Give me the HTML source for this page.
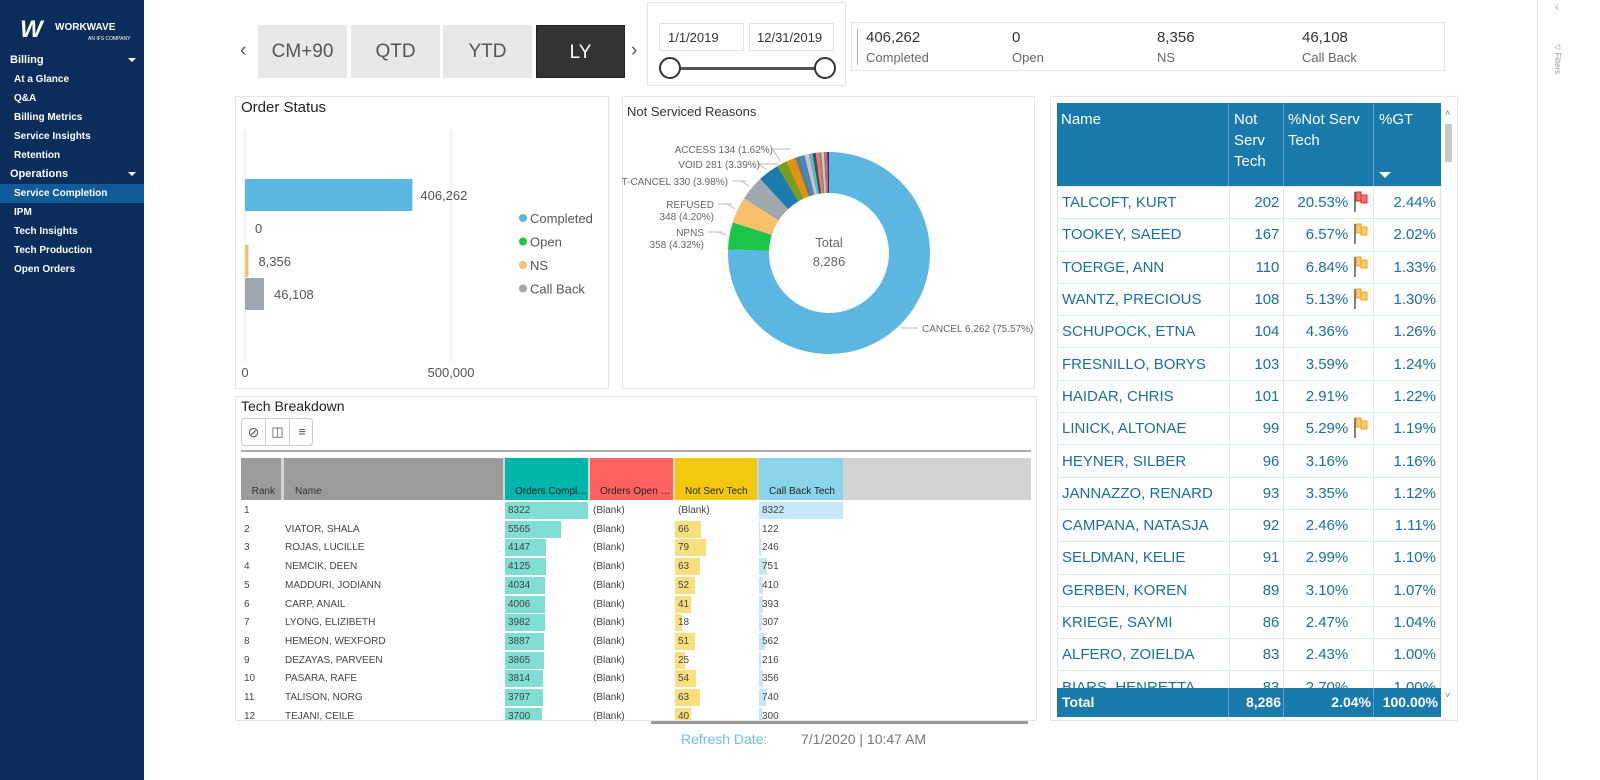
<!DOCTYPE html>
<html><head><meta charset="utf-8">
<style>
*{box-sizing:border-box;margin:0;padding:0}
body{width:1600px;height:780px;overflow:hidden;background:#fff;font-family:"Liberation Sans",sans-serif;position:relative;color:#333}
.abs{position:absolute}
#side{left:0;top:0;width:144px;height:780px;background:#0b2d5c}
.nav{position:absolute;left:14px;font-size:10px;color:#fff;font-weight:bold}
.navh{position:absolute;left:10px;font-size:11px;color:#fff;font-weight:bold}
.btn{position:absolute;top:25px;height:53px;width:89px;background:#e8e8e8;color:#555;font-size:19px;text-align:center;line-height:53px}
.panel{position:absolute;border:1px solid #e6e6e6;background:#fff}
.ptitle{position:absolute;font-size:15px;color:#222}
.kv{position:absolute;top:29px;font-size:15px;color:#333}
.kl{position:absolute;top:50px;font-size:13px;color:#666}
table.rt{position:absolute;left:1057px;top:103px;border-collapse:collapse;font-size:15px;color:#1a6fa0}
table.rt td{border:1px solid #dbe8f2;height:32.3px;padding:0 4px;white-space:nowrap;overflow:hidden}
.th{position:absolute;color:#fff;font-size:15px;line-height:21px}
.trow{position:absolute;font-size:10px;color:#444;height:17px;line-height:17px}
</style></head><body>
<div id="side" class="abs">
  <div class="abs" style="left:20px;top:16px;color:#fff;font-weight:bold;font-size:24px;font-style:italic;letter-spacing:-3px">W</div>
  <div class="abs" style="left:55px;top:22px;color:#fff;font-weight:bold;font-size:10px">WORKWAVE</div>
  <div class="abs" style="left:88px;top:36px;color:#fff;font-size:5px">AN IFS COMPANY</div>
  <div class="navh" style="top:54px">Billing</div>
  <div class="abs" style="left:128px;top:58px;border:4px solid transparent;border-top:4px solid #fff"></div>
  <div class="nav" style="top:74px">At a Glance</div>
  <div class="nav" style="top:93px">Q&amp;A</div>
  <div class="nav" style="top:112px">Billing Metrics</div>
  <div class="nav" style="top:131px">Service Insights</div>
  <div class="nav" style="top:150px">Retention</div>
  <div class="navh" style="top:168px">Operations</div>
  <div class="abs" style="left:128px;top:172px;border:4px solid transparent;border-top:4px solid #fff"></div>
  <div class="abs" style="left:0;top:184px;width:144px;height:19px;background:#0f5c99"></div>
  <div class="nav" style="top:188px">Service Completion</div>
  <div class="nav" style="top:207px">IPM</div>
  <div class="nav" style="top:226px">Tech Insights</div>
  <div class="nav" style="top:245px">Tech Production</div>
  <div class="nav" style="top:264px">Open Orders</div>
</div>

<div class="abs" style="left:1537px;top:0;width:1px;height:780px;background:#ddd"></div>
<div class="abs" style="left:1555px;top:2px;font-size:11px;color:#999">‹</div>
<div class="abs" style="top:44px;font-size:8px;color:#999;transform:rotate(90deg);transform-origin:left top;left:1562px">▽  Filters</div>

<div class="abs" style="left:240px;top:40px;font-size:19px;color:#555">‹</div>
<div class="btn" style="left:258px">CM+90</div>
<div class="btn" style="left:351px">QTD</div>
<div class="btn" style="left:443px">YTD</div>
<div class="btn" style="left:536px;background:#333;color:#fff;border:1px solid #222">LY</div>
<div class="abs" style="left:631px;top:40px;font-size:19px;color:#555">›</div>

<div class="panel" style="left:647px;top:2px;width:199px;height:84px"></div>
<div class="abs" style="left:659px;top:23px;width:85px;height:28px;border:1px solid #e3e3e3;font-size:13px;line-height:28px;padding-left:8px">1/1/2019</div>
<div class="abs" style="left:749px;top:23px;width:85px;height:28px;border:1px solid #e3e3e3;font-size:13px;line-height:28px;padding-left:7px">12/31/2019</div>
<div class="abs" style="left:670px;top:67px;width:155px;height:3px;background:#555"></div>
<div class="abs" style="left:659px;top:57px;width:22px;height:22px;border-radius:50%;border:2px solid #333;background:#fff"></div>
<div class="abs" style="left:814px;top:57px;width:22px;height:22px;border-radius:50%;border:2px solid #333;background:#fff"></div>

<div class="panel" style="left:851px;top:22px;width:594px;height:49px"></div>
<div class="abs" style="left:857px;top:29px;width:1px;height:36px;background:#aaa"></div>
<div class="kv" style="left:866px">406,262</div><div class="kl" style="left:866px">Completed</div>
<div class="kv" style="left:1012px">0</div><div class="kl" style="left:1012px">Open</div>
<div class="kv" style="left:1157px">8,356</div><div class="kl" style="left:1157px">NS</div>
<div class="kv" style="left:1302px">46,108</div><div class="kl" style="left:1302px">Call Back</div>

<!-- Order Status -->
<div class="panel" style="left:235px;top:96px;width:374px;height:293px"></div>
<div class="ptitle" style="left:241px;top:99px">Order Status</div>
<svg class="abs" style="left:0;top:0" width="1600" height="780" id="obar"></svg>

<!-- Donut -->
<div class="panel" style="left:622px;top:96px;width:413px;height:293px"></div>
<div class="ptitle" style="left:627px;top:104px;font-size:13px;color:#333">Not Serviced Reasons</div>
<svg class="abs" style="left:0;top:0" width="1600" height="780" id="donut"></svg>

<!-- Tech breakdown -->
<div class="panel" style="left:235px;top:396px;width:802px;height:325px"></div>
<div class="ptitle" style="left:241px;top:398px;font-size:14px">Tech Breakdown</div>
<div class="abs" style="left:241px;top:418px;width:72px;height:28px;border:1px solid #ccc;border-radius:4px;background:#fff">
 <div class="abs" style="left:0;top:0;width:24px;height:26px;border-right:1px solid #ccc;text-align:center;font-size:14px;line-height:26px;color:#555">⊘</div>
 <div class="abs" style="left:24px;top:0;width:24px;height:26px;border-right:1px solid #ccc;text-align:center;font-size:13px;line-height:26px;color:#555">◫</div>
 <div class="abs" style="left:48px;top:0;width:24px;height:26px;text-align:center;font-size:13px;line-height:26px;color:#555">≡</div>
</div>
<div class="abs" style="left:241px;top:450px;width:790px;height:2px;background:#aaa"></div>
<div class="abs" style="left:241px;top:458px;width:790px;height:42px;background:#d3d3d3"></div>
<div class="abs" style="left:241px;top:458px;width:40px;height:42px;background:#9b9b9b;font-size:10px;color:#333;text-align:right;padding:28px 6px 0 0">Rank</div>
<div class="abs" style="left:284px;top:458px;width:219px;height:42px;background:#9b9b9b;font-size:10px;color:#333;padding:28px 0 0 11px">Name</div>
<div class="abs" style="left:505px;top:458px;width:83px;height:42px;background:#00b5a9;font-size:10px;color:#222;padding:28px 0 0 10px;white-space:nowrap;overflow:hidden">Orders Compl…</div>
<div class="abs" style="left:590px;top:458px;width:83px;height:42px;background:#fd625e;font-size:10px;color:#222;padding:28px 0 0 10px;white-space:nowrap;overflow:hidden">Orders Open …</div>
<div class="abs" style="left:675px;top:458px;width:82px;height:42px;background:#f2c80f;font-size:10px;color:#222;padding:28px 0 0 10px;white-space:nowrap">Not Serv Tech</div>
<div class="abs" style="left:759px;top:458px;width:84px;height:42px;background:#8ad4eb;font-size:10px;color:#222;padding:28px 0 0 10px;white-space:nowrap">Call Back Tech</div>
<div id="tbrows"></div>

<!-- Right table -->
<div class="panel" style="left:1050px;top:96px;width:408px;height:625px"></div>
<div class="abs" style="left:1057px;top:103px;width:384px;height:83px;background:#1a7aab"></div>
<div class="th" style="left:1061px;top:109px">Name</div>
<div class="th" style="left:1234px;top:109px">Not<br>Serv<br>Tech</div>
<div class="th" style="left:1288px;top:109px">%Not Serv<br>Tech</div>
<div class="th" style="left:1379px;top:109px">%GT</div>
<div class="abs" style="left:1379px;top:172px;border:6px solid transparent;border-top:6px solid #fff"></div>
<div class="abs" style="left:1228px;top:103px;width:1px;height:83px;background:#5aa0c8"></div>
<div class="abs" style="left:1283px;top:103px;width:1px;height:83px;background:#5aa0c8"></div>
<div class="abs" style="left:1373px;top:103px;width:1px;height:83px;background:#5aa0c8"></div>
<div class="abs" style="left:1057px;top:186px;width:384px;height:502px;overflow:hidden" id="rtwrap"></div>
<div class="abs" style="left:1057px;top:688px;width:384px;height:29px;background:#1a7aab;color:#fff;font-weight:bold;font-size:14px;line-height:29px">
 <span class="abs" style="left:5px">Total</span>
 <span class="abs" style="right:160px">8,286</span>
 <span class="abs" style="right:70px">2.04%</span>
 <span class="abs" style="right:3px">100.00%</span>
 <div class="abs" style="left:171px;top:0;width:1px;height:29px;background:#5aa0c8"></div>
 <div class="abs" style="left:226px;top:0;width:1px;height:29px;background:#5aa0c8"></div>
 <div class="abs" style="left:316px;top:0;width:1px;height:29px;background:#5aa0c8"></div>
</div>
<div class="abs" style="left:1445px;top:124px;width:7px;height:38px;background:#c8c8c8"></div>
<div class="abs" style="left:1445px;top:108px;font-size:9px;color:#777">˄</div>
<div class="abs" style="left:1445px;top:690px;font-size:9px;color:#777">˅</div>

<div class="abs" style="left:651px;top:721px;width:377px;height:3px;background:#999"></div>
<div class="abs" style="left:681px;top:731px;font-size:14px;color:#6cc0e6">Refresh Date:</div>
<div class="abs" style="left:801px;top:731px;font-size:14px;color:#777">7/1/2020 | 10:47 AM</div>

<script>
const NS="http://www.w3.org/2000/svg";
function mk(p,t,a){const e=document.createElementNS(NS,t);for(const k in a)e.setAttribute(k,a[k]);p.appendChild(e);return e;}

// ---- Order Status ----
const statusCats=["Completed","Open","NS","Call Back"];
const statusVals=[406262,0,8356,46108];
const statusColors=["#5bb7e2","#1ac54a","#f8c06a","#a0a7ad"];
const statusTicks=[0,500000];
const ob=document.getElementById('obar');
const ox=v=>245+v*206/500000;
const oy=i=>179+i*33;
statusTicks.forEach(t=>{
  const l=mk(ob,'line',{x1:ox(t),x2:ox(t),y1:130,y2:362,stroke:'#e6e6e6'});
  
  
  const tx=mk(ob,'text',{x:ox(t),y:377,'font-size':13,fill:'#555','text-anchor':'middle'});
  tx.textContent=t.toLocaleString('en-US');
  
  
});
statusVals.forEach((v,i)=>{
  const r=mk(ob,'rect',{x:ox(0),y:oy(i),width:Math.max(0,ox(v)-ox(0)),height:32,fill:statusColors[i]});
  
  
  const t=mk(ob,'text',{x:ox(v)+(v>100000?8:10),y:oy(i)+21,'font-size':13,fill:'#555'});
  t.textContent=v.toLocaleString('en-US');
  
  
  const c=mk(ob,'circle',{cx:523,cy:218+i*23.5,r:4,fill:statusColors[i]});
  
  
  const lt=mk(ob,'text',{x:530,y:223+i*23.5,'font-size':13,fill:'#555'});
  lt.textContent=statusCats[i];
  
  
});

// ---- Donut ----
const reasonNames=["CANCEL","NPNS","REFUSED","T-CANCEL","VOID","ACCESS","O1","O2","O3","O4","O5","O6","O7","O8","O9","O10","O11","O12"];
const reasonVals=[6262,358,348,330,281,134,120,70,60,55,50,45,40,35,30,25,23,20];
const reasonColors=["#5bb7e2","#1ac54a","#f8c06a","#a0a7ad","#1d7bb0","#7a9a20","#e2900e","#6b7680","#2e8fc9","#e8b5c0","#3fc6c0","#444c55","#fb6f6f","#7c8a96","#f5d14a","#9a6acb","#c94f9c","#333"];
const labelTexts=[["CANCEL 6,262 (75.57%)"],["NPNS","358 (4.32%)"],["REFUSED","348 (4.20%)"],["T-CANCEL 330 (3.98%)"],["VOID 281 (3.39%)"],["ACCESS 134 (1.62%)"]];
// label anchor layout (x of text end/start, y of baseline of first line)
const labelLayout=[[922,332],[704,236],[714,208],[728,185],[760,168],[773,153]];
const dn=document.getElementById('donut');
const cx=829,cy=253,R=101,r0=60;
const total=reasonVals.reduce((a,b)=>a+b,0);
let acc=0;
const pt=(a,rr)=>[cx+rr*Math.sin(a),cy-rr*Math.cos(a)];
reasonVals.forEach((v,i)=>{
  const a0=acc/total*2*Math.PI; acc+=v; const a1=acc/total*2*Math.PI;
  const lg=(a1-a0)>Math.PI?1:0;
  const [x0,y0]=pt(a0,R),[x1,y1]=pt(a1,R),[x2,y2]=pt(a1,r0),[x3,y3]=pt(a0,r0);
  const p=mk(dn,'path',{d:`M${x0},${y0}A${R},${R} 0 ${lg} 1 ${x1},${y1}L${x2},${y2}A${r0},${r0} 0 ${lg} 0 ${x3},${y3}Z`,fill:reasonColors[i]});
  
  
  if(i<labelTexts.length){
    const am=(a0+a1)/2;const [px,py]=pt(am,R+3);
    const right=Math.sin(am)>0;
    const [lx,ly]=labelLayout[i];
    const lineX=right?lx-4:lx+4;
    const ln=mk(dn,'polyline',{points:`${px},${py} ${px+(right?8:-8)},${ly-4} ${lineX+(right?0:14)},${ly-4} ${lineX},${ly-4}`,fill:'none',stroke:'#bbb'});
    
    
    labelTexts[i].forEach((s,k)=>{
      const t=mk(dn,'text',{x:lx,y:ly+k*12,'font-size':10,fill:'#666','text-anchor':right?'start':'end'});
      t.textContent=s;
      
      
    });
  }
});
const t1=mk(dn,'text',{x:cx,y:cy-6,'font-size':13,fill:'#666','text-anchor':'middle'});t1.textContent='Total';


const t2=mk(dn,'text',{x:cx,y:cy+13,'font-size':13,fill:'#666','text-anchor':'middle'});t2.textContent=total.toLocaleString('en-US');



// ---- Tech Breakdown rows ----
const tbNames=["","VIATOR, SHALA","ROJAS, LUCILLE","NEMCIK, DEEN","MADDURI, JODIANN","CARP, ANAIL","LYONG, ELIZIBETH","HEMEON, WEXFORD","DEZAYAS, PARVEEN","PASARA, RAFE","TALISON, NORG","TEJANI, CEILE"];
const tbCompleted=[8322,5565,4147,4125,4034,4006,3982,3887,3865,3814,3797,3700];
const tbNotServ=[null,66,79,63,52,41,18,51,25,54,63,40];
const tbCallBack=[8322,122,246,751,410,393,307,562,216,356,740,300];
const tbw=document.getElementById('tbrows');
function add(html,st,name){const d=document.createElement('div');d.className='trow';d.style.cssText=st;d.innerHTML=html;
  
  
  tbw.appendChild(d);return d;}
const maxC=Math.max(...tbCompleted);
tbNames.forEach((n,i)=>{
  const y=502+i*18.7;
  if(y>712) return;
  const h=Math.min(17,720-y);
  add('', `left:505px;top:${y}px;width:${tbCompleted[i]/maxC*83}px;height:${h}px;background:#80ddd4`,'completed-bar');
  if(tbNotServ[i]!=null) add('',`left:675px;top:${y}px;width:${tbNotServ[i]*0.39}px;height:${h}px;background:#f8e07f`,'not-serv-bar');
  add('',`left:759px;top:${y}px;width:${tbCallBack[i]/maxC*84}px;height:${h}px;background:#c4e8f5`,'call-back-bar');
  add(String(i+1),`left:244px;top:${y}px`,'rank-cell');
  add(n,`left:285px;top:${y}px`,'name-cell');
  add(String(tbCompleted[i]),`left:508px;top:${y}px`,'completed-cell');
  add('(Blank)',`left:593px;top:${y}px`,'open-cell');
  add(tbNotServ[i]==null?'(Blank)':String(tbNotServ[i]),`left:678px;top:${y}px`,'not-serv-cell');
  add(String(tbCallBack[i]),`left:762px;top:${y}px`,'call-back-cell');
});

// ---- Right table ----
const rtNames=["TALCOFT, KURT","TOOKEY, SAEED","TOERGE, ANN","WANTZ, PRECIOUS","SCHUPOCK, ETNA","FRESNILLO, BORYS","HAIDAR, CHRIS","LINICK, ALTONAE","HEYNER, SILBER","JANNAZZO, RENARD","CAMPANA, NATASJA","SELDMAN, KELIE","GERBEN, KOREN","KRIEGE, SAYMI","ALFERO, ZOIELDA","BIARS, HENRETTA"];
const rtNotServ=[202,167,110,108,104,103,101,99,96,93,92,91,89,86,83,83];
const rtPct=["20.53%","6.57%","6.84%","5.13%","4.36%","3.59%","2.91%","5.29%","3.16%","3.35%","2.46%","2.99%","3.10%","2.47%","2.43%","2.70%"];
const rtFlag=["red","y","y","y","","","","y","","","","","","","",""];
const rtGT=["2.44%","2.02%","1.33%","1.30%","1.26%","1.24%","1.22%","1.19%","1.16%","1.12%","1.11%","1.10%","1.07%","1.04%","1.00%","1.00%"];
const tb=document.createElement('table');tb.className='rt';tb.style.cssText='position:static';


rtNames.forEach((n,i)=>{
  const tr=document.createElement('tr');
  
  
  const flag=rtFlag[i]?`<svg width="16" height="22" style="position:absolute;right:4px;top:4px"><line x1="2" y1="1" x2="2" y2="21" stroke="#555" stroke-width="1.5"/><rect x="3" y="1" width="5" height="9" fill="${rtFlag[i]=='red'?'#f4706b':'#f8c96e'}" stroke="${rtFlag[i]=='red'?'#e03030':'#f0a020'}"/><rect x="8" y="4" width="6" height="8" fill="${rtFlag[i]=='red'?'#f4706b':'#f8c96e'}" stroke="${rtFlag[i]=='red'?'#e03030':'#f0a020'}"/></svg>`:'';
  tr.innerHTML=`<td style="width:172px">${n}</td><td style="width:55px;text-align:right">${rtNotServ[i]}</td><td style="width:90px;text-align:right;padding-right:25px;position:relative">${rtPct[i]}${flag}</td><td style="width:67px;text-align:right">${rtGT[i]}</td>`;
  tb.appendChild(tr);
});
document.getElementById('rtwrap').appendChild(tb);
</script>
</body></html>
